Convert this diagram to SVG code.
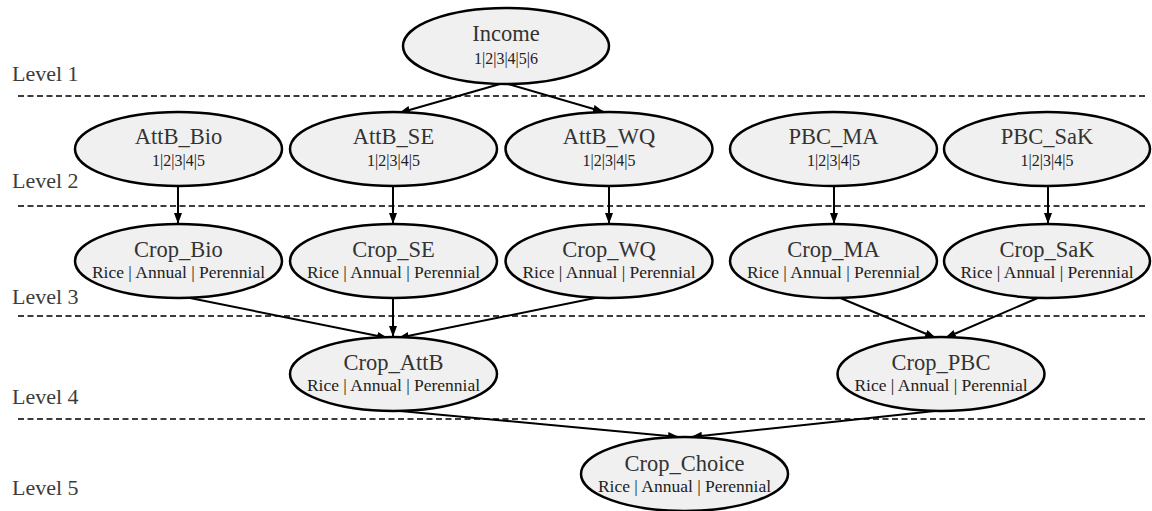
<svg xmlns="http://www.w3.org/2000/svg" width="1152" height="511" viewBox="0 0 1152 511">
  <style>
    .bg { fill: #ffffff; }
    text { font-family: 'Liberation Serif', 'Noto Serif', 'Nimbus Roman', 'Nimbus Roman No9 L', FreeSerif, Times, 'Times New Roman', serif; }
    .level { font-size: 22px; fill: #3c3c3c; }
    .sep { stroke: #3c3c3c; stroke-width: 2; stroke-dasharray: 6 3.5; fill: none; }
    .node ellipse { fill: #f0f0f0; stroke: #000000; stroke-width: 2.5; }
    .title { font-size: 22.5px; fill: #333333; text-anchor: middle; }
    .sub { font-size: 17.5px; fill: #222222; text-anchor: middle; }
    .num { font-size: 16px; fill: #222222; text-anchor: middle; }
    .edge { stroke: #000000; stroke-width: 2; fill: none; marker-end: url(#arrow); }
  </style>
  <defs>
    <marker id="arrow" markerUnits="userSpaceOnUse" markerWidth="12" markerHeight="10" refX="11" refY="5" orient="auto">
      <path d="M0,1 L11,5 L0,9 Z" fill="#000000"/>
    </marker>
  </defs>

  <rect class="bg" x="0" y="0" width="1152" height="511"/>

  <!-- level bands -->
  <g id="levels">
    <text class="level" x="12" y="81">Level 1</text>
    <text class="level" x="12" y="188">Level 2</text>
    <text class="level" x="12" y="304">Level 3</text>
    <text class="level" x="12" y="404">Level 4</text>
    <text class="level" x="12" y="495">Level 5</text>
    <line class="sep" x1="18" y1="96" x2="1146" y2="96"/>
    <line class="sep" x1="18" y1="206" x2="1146" y2="206"/>
    <line class="sep" x1="18" y1="316" x2="1146" y2="316"/>
    <line class="sep" x1="18" y1="419" x2="1146" y2="419"/>
  </g>

  <!-- connectors -->
  <g id="connectors">
    <line class="edge" x1="500" y1="84" x2="399" y2="113"/>
    <line class="edge" x1="508" y1="84" x2="604" y2="112"/>
    <line class="edge" x1="178" y1="186" x2="178" y2="224"/>
    <line class="edge" x1="393" y1="186" x2="393" y2="224"/>
    <line class="edge" x1="609" y1="186" x2="609" y2="224"/>
    <line class="edge" x1="834" y1="185" x2="834" y2="224"/>
    <line class="edge" x1="1048" y1="185" x2="1048" y2="224"/>
    <line class="edge" x1="185" y1="297" x2="388" y2="338"/>
    <line class="edge" x1="393" y1="298" x2="393" y2="337"/>
    <line class="edge" x1="600" y1="297" x2="398" y2="338"/>
    <line class="edge" x1="838" y1="297" x2="936" y2="338"/>
    <line class="edge" x1="1040" y1="297" x2="945" y2="338"/>
    <line class="edge" x1="400" y1="411" x2="679" y2="437"/>
    <line class="edge" x1="935" y1="411" x2="691" y2="437"/>
  </g>

  <!-- level 1 -->
  <g id="income" class="node">
    <ellipse cx="506" cy="46" rx="103" ry="38"/>
    <text class="title" x="506" y="41">Income</text>
    <text class="num" x="506" y="64">1|2|3|4|5|6</text>
  </g>

  <!-- level 2 -->
  <g id="attb_bio" class="node">
    <ellipse cx="178.5" cy="149" rx="103.5" ry="37"/>
    <text class="title" x="178.5" y="144">AttB_Bio</text>
    <text class="num" x="178.5" y="166">1|2|3|4|5</text>
  </g>
  <g id="attb_se" class="node">
    <ellipse cx="393.5" cy="149" rx="103.5" ry="37"/>
    <text class="title" x="393.5" y="144">AttB_SE</text>
    <text class="num" x="393.5" y="166">1|2|3|4|5</text>
  </g>
  <g id="attb_wq" class="node">
    <ellipse cx="609" cy="149" rx="103.5" ry="37"/>
    <text class="title" x="609" y="144">AttB_WQ</text>
    <text class="num" x="609" y="166">1|2|3|4|5</text>
  </g>
  <g id="pbc_ma" class="node">
    <ellipse cx="833.5" cy="149" rx="103.5" ry="37"/>
    <text class="title" x="833.5" y="144">PBC_MA</text>
    <text class="num" x="833.5" y="166">1|2|3|4|5</text>
  </g>
  <g id="pbc_sak" class="node">
    <ellipse cx="1047" cy="149" rx="103" ry="37"/>
    <text class="title" x="1047" y="144">PBC_SaK</text>
    <text class="num" x="1047" y="166">1|2|3|4|5</text>
  </g>

  <!-- level 3 -->
  <g id="crop_bio" class="node">
    <ellipse cx="178.5" cy="261" rx="103.5" ry="37"/>
    <text class="title" x="178.5" y="257">Crop_Bio</text>
    <text class="sub" x="178.5" y="278">Rice | Annual | Perennial</text>
  </g>
  <g id="crop_se" class="node">
    <ellipse cx="393.5" cy="261" rx="103.5" ry="37"/>
    <text class="title" x="393.5" y="257">Crop_SE</text>
    <text class="sub" x="393.5" y="278">Rice | Annual | Perennial</text>
  </g>
  <g id="crop_wq" class="node">
    <ellipse cx="609" cy="261" rx="103.5" ry="37"/>
    <text class="title" x="609" y="257">Crop_WQ</text>
    <text class="sub" x="609" y="278">Rice | Annual | Perennial</text>
  </g>
  <g id="crop_ma" class="node">
    <ellipse cx="833.5" cy="261" rx="103.5" ry="37"/>
    <text class="title" x="833.5" y="257">Crop_MA</text>
    <text class="sub" x="833.5" y="278">Rice | Annual | Perennial</text>
  </g>
  <g id="crop_sak" class="node">
    <ellipse cx="1047" cy="261" rx="103" ry="37"/>
    <text class="title" x="1047" y="257">Crop_SaK</text>
    <text class="sub" x="1047" y="278">Rice | Annual | Perennial</text>
  </g>

  <!-- level 4 -->
  <g id="crop_attb" class="node">
    <ellipse cx="393.5" cy="374" rx="103.5" ry="37"/>
    <text class="title" x="393.5" y="370">Crop_AttB</text>
    <text class="sub" x="393.5" y="391">Rice | Annual | Perennial</text>
  </g>
  <g id="crop_pbc" class="node">
    <ellipse cx="941" cy="374" rx="103.5" ry="37"/>
    <text class="title" x="941" y="370">Crop_PBC</text>
    <text class="sub" x="941" y="391">Rice | Annual | Perennial</text>
  </g>

  <!-- level 5 -->
  <g id="crop_choice" class="node">
    <ellipse cx="684.5" cy="474" rx="103.5" ry="37"/>
    <text class="title" x="684.5" y="471">Crop_Choice</text>
    <text class="sub" x="684.5" y="492">Rice | Annual | Perennial</text>
  </g>
</svg>
